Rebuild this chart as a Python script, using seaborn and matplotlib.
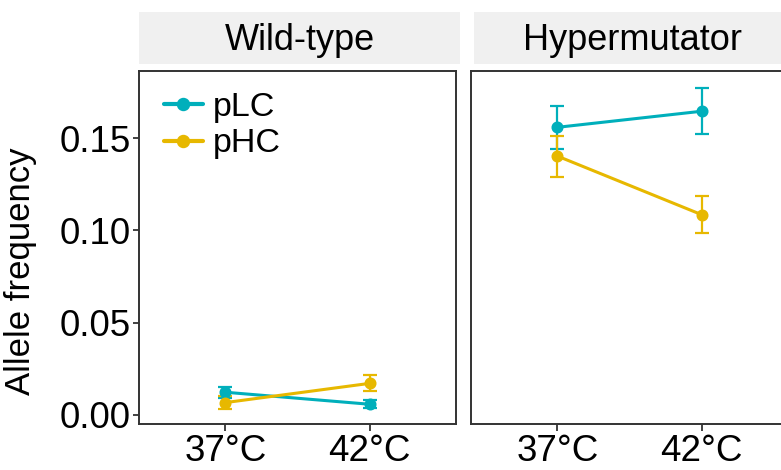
import matplotlib
matplotlib.use("Agg")
import matplotlib.pyplot as plt
import seaborn as sns
import pandas as pd

# Summary values: mean allele frequency and its error per strain / temperature
strains = ["Wild-type", "Hypermutator"]
temps = ["37°C", "42°C"]
alleles = ["pLC", "pHC"]

wt_plc = [0.0123, 0.0058]
wt_plc_err = [0.0030, 0.0021]
wt_phc = [0.0067, 0.0171]
wt_phc_err = [0.0033, 0.0043]

hm_plc = [0.1558, 0.1645]
hm_plc_err = [0.0118, 0.0124]
hm_phc = [0.1402, 0.1085]
hm_phc_err = [0.0111, 0.0101]

yticks = [0.00, 0.05, 0.10, 0.15]
ytick_labels = ["0.00", "0.05", "0.10", "0.15"]

palette = {"pLC": "#00AFBB", "pHC": "#E7B800"}

rows = []
for strain, series in zip(strains, [(wt_plc, wt_plc_err, wt_phc, wt_phc_err),
                                    (hm_plc, hm_plc_err, hm_phc, hm_phc_err)]):
    plc, plc_e, phc, phc_e = series
    for i, t in enumerate(temps):
        rows.append(dict(strain=strain, temp=t, allele="pLC", freq=plc[i], err=plc_e[i]))
        rows.append(dict(strain=strain, temp=t, allele="pHC", freq=phc[i], err=phc_e[i]))
df = pd.DataFrame(rows)

sns.set_theme(style="white")
plt.rcParams["font.family"] = ["Liberation Sans", "DejaVu Sans"]

W, H = 781, 470
fig = plt.figure(figsize=(W / 100, H / 100), dpi=100)

def px_axes(x0, y0, x1, y1):
    return fig.add_axes([x0 / W, 1 - y1 / H, (x1 - x0) / W, (y1 - y0) / H])

panel_boxes = [(139, 71, 456, 424), (471, 71, 788, 424)]
strip_boxes = [(139, 12, 460, 64), (474, 12, 790, 64)]
edge = "#333333"

for k, strain in enumerate(strains):
    ax = px_axes(*panel_boxes[k])
    sub = df[df["strain"] == strain]
    sns.pointplot(data=sub, x="temp", y="freq", hue="allele", order=temps,
                  hue_order=alleles, palette=palette, errorbar=None,
                  markers="o", linestyles="-", ax=ax, legend=(k == 0),
                  linewidth=2.2, markersize=7)
    for allele in alleles:
        s = sub[sub["allele"] == allele].set_index("temp").loc[temps]
        ax.errorbar(range(len(temps)), s["freq"], yerr=s["err"], fmt="none",
                    ecolor=palette[allele], elinewidth=1.6, capsize=4.7,
                    capthick=1.6, zorder=1)
    ax.set_xlim(-0.6, 1.6)
    ax.set_ylim(-0.0049, 0.1863)
    ax.set_xlabel("")
    ax.set_yticks(yticks)
    for sp in ax.spines.values():
        sp.set_color(edge)
        sp.set_linewidth(1.4)
        sp.set_visible(True)
    ax.tick_params(axis="x", length=5, width=1.3, color=edge, labelsize=26.5,
                   pad=2.5, bottom=True, labelcolor="black")
    if k == 0:
        ax.set_yticklabels(ytick_labels)
        ax.tick_params(axis="y", length=4.5, width=1.3, color=edge, labelsize=26.5,
                       pad=1.5, left=True, labelcolor="black")
        ax.set_ylabel("Allele frequency", fontsize=25, color="black")
        ax.yaxis.set_label_coords(-0.322, 0.433)
        leg = ax.legend(loc="upper left", frameon=False, fontsize=24.5,
                        handlelength=1.15, handletextpad=0.3, labelspacing=0.17,
                        borderaxespad=0.0, bbox_to_anchor=(0.035, 0.98))
        for h in leg.legend_handles:
            h.set_linewidth(3.0)
            h.set_markersize(8)
        for t in leg.get_texts():
            t.set_color("black")
    else:
        ax.set_yticklabels([])
        ax.tick_params(axis="y", left=False, length=0)
        ax.set_ylabel("")

    sax = px_axes(*strip_boxes[k])
    sax.set_facecolor("#F0F0F0")
    sax.set_xticks([])
    sax.set_yticks([])
    for sp in sax.spines.values():
        sp.set_visible(False)
    sax.text(0.5, 0.45, strain, ha="center", va="center", fontsize=26,
             color="black", transform=sax.transAxes)

fig.savefig("out.png", dpi=100)
